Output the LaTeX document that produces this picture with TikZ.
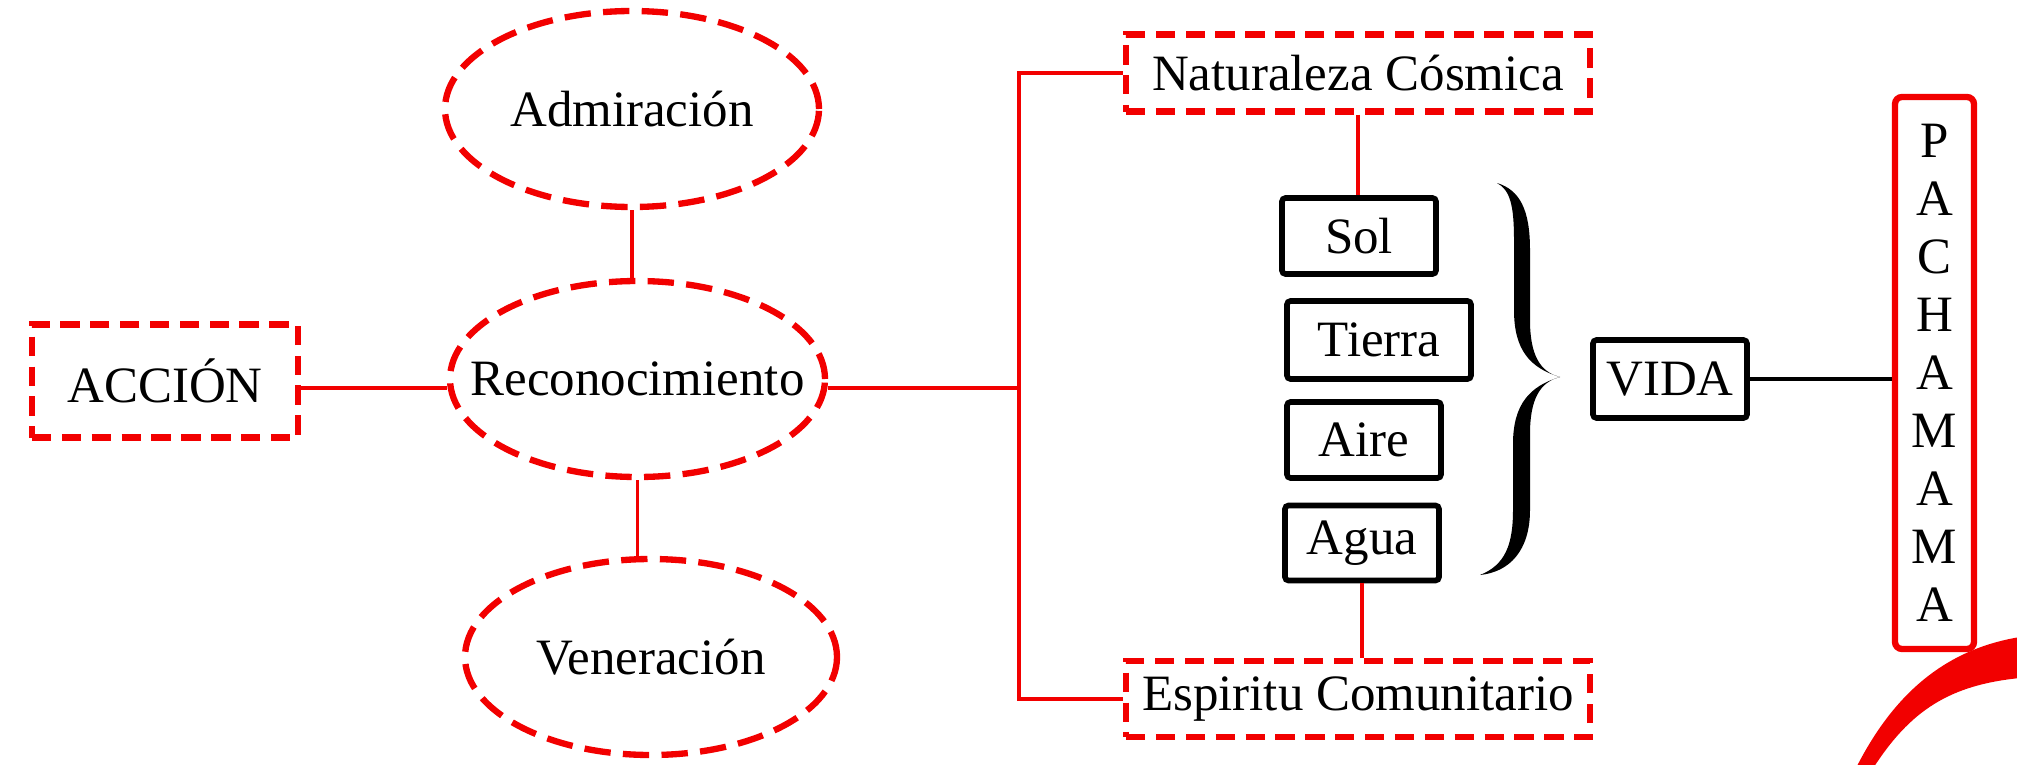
\documentclass[tikz,border=0pt]{standalone}
\usepackage{fontspec}
\setmainfont{Liberation Serif}
\usetikzlibrary{shapes.geometric}
\definecolor{mapred}{RGB}{242,0,0}

\begin{document}
\begin{tikzpicture}
\tikzstyle{every node}+=[inner sep=0pt, font=\fontsize{14.5}{17}\selectfont]
\tikzstyle{dashbox}=[draw=mapred, line width=1.8pt, dash pattern=on 5.5pt off 3pt, rectangle]
\tikzstyle{dashoval}=[draw=mapred, line width=1.8pt, dash pattern=on 7.5pt off 3.5pt, ellipse, minimum width=3.74cm, minimum height=1.96cm]
\tikzstyle{elembox}=[draw=black, line width=1.6pt, rounded corners=1pt, minimum width=1.54cm, minimum height=0.76cm]
\tikzstyle{redline}=[draw=mapred, line width=1.1pt]
\tikzstyle{blackline}=[draw=black, line width=1.1pt]
\useasboundingbox (0,0) rectangle (20.17,-7.65);
\node [dashbox, minimum width=2.66cm, minimum height=1.13cm] (accion) at (1.65,-3.81) {ACCIÓN};
\node [dashoval] (admir) at (6.32,-1.09) {\makebox[0pt]{Admiración}};
\node [dashoval, minimum width=3.75cm] (recon) at (6.375,-3.79) {\makebox[0pt]{Reconocimiento}};
\node [dashoval, minimum width=3.72cm] (vener) at (6.51,-6.57) {\makebox[0pt]{Veneración}};
\coordinate (trunk) at (10.19,-3.88);
\node [dashbox, minimum width=4.64cm, minimum height=0.77cm] (nat) at (13.58,-0.73) {Naturaleza Cósmica};
\node [dashbox, minimum width=4.64cm, minimum height=0.76cm] (esp) at (13.58,-6.99) {Espiritu Comunitario};
\node [elembox] (sol) at (13.59,-2.36) {Sol};
\node [elembox, minimum width=1.84cm, minimum height=0.78cm] (tierra) at (13.79,-3.40) {Tierra};
\node [elembox] (aire) at (13.64,-4.40) {Aire};
\node [elembox, minimum height=0.75cm] (agua) at (13.62,-5.43) {Agua};
\node [elembox, minimum height=0.78cm] (vida) at (16.70,-3.79) {VIDA};
\node [draw=mapred, line width=1.8pt, rounded corners=2pt, minimum width=0.79cm, minimum height=5.52cm, align=center, font=\fontsize{14.5}{16.5}\selectfont] (pacha) at (19.345,-3.73) {P\\A\\C\\H\\A\\M\\A\\M\\A};
\draw [redline] (accion.east |- trunk) -- (recon.west |- trunk);
\draw [redline] (admir.south) -- (admir.south |- recon.north);
\draw [redline] (recon.south) -- (recon.south |- vener.north);
\draw [redline] (recon.east |- trunk) -- (trunk);
\draw [redline] (nat.west) -| (trunk) |- (esp.west);
\draw [redline] (nat.south) -- (nat.south |- sol.north);
\draw [redline] (agua.south) -- (agua.south |- esp.north);
\fill [black] (14.97,-1.83) .. controls (15.20,-1.90) and (15.30,-2.10) .. (15.30,-2.50) -- (15.30,-3.20) .. controls (15.30,-3.55) and (15.40,-3.72) .. (15.60,-3.77) .. controls (15.40,-3.82) and (15.30,-3.99) .. (15.30,-4.34) -- (15.30,-5.10) .. controls (15.30,-5.50) and (15.10,-5.72) .. (14.80,-5.75) .. controls (15.05,-5.65) and (15.13,-5.45) .. (15.13,-5.10) -- (15.13,-4.44) .. controls (15.13,-4.04) and (15.30,-3.86) .. (15.60,-3.77) .. controls (15.30,-3.68) and (15.14,-3.50) .. (15.14,-3.10) -- (15.14,-2.40) .. controls (15.14,-2.05) and (15.10,-1.90) .. (14.97,-1.83) -- cycle;
\draw [blackline] (vida.east) -- (vida.east -| pacha.west);
\fill [mapred] (18.55,-7.70) .. controls (18.9,-7.0) and (19.4,-6.5) .. (20.20,-6.37) -- (20.20,-6.78) .. controls (19.5,-6.85) and (19.1,-7.1) .. (18.72,-7.70) -- cycle;
\end{tikzpicture}
\end{document}
